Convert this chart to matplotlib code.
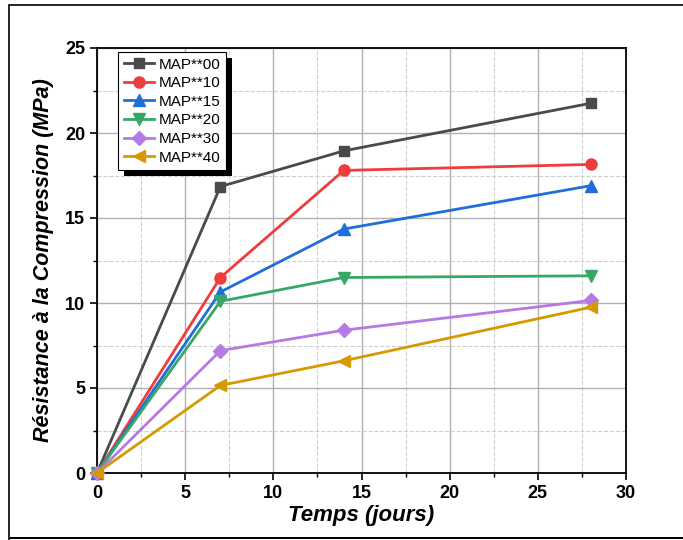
import numpy as np
import matplotlib.pyplot as plt
from matplotlib.patches import Rectangle
from matplotlib.ticker import MultipleLocator

plt.rcParams['font.family'] = ['Liberation Sans', 'DejaVu Sans']

days = [0, 7, 14, 28]
labels = ['MAP**00', 'MAP**10', 'MAP**15', 'MAP**20', 'MAP**30', 'MAP**40']
map00 = [0, 16.85, 18.95, 21.75]
map10 = [0, 11.5, 17.8, 18.15]
map15 = [0, 10.65, 14.35, 16.9]
map20 = [0, 10.1, 11.5, 11.6]
map30 = [0, 7.2, 8.4, 10.15]
map40 = [0, 5.15, 6.6, 9.75]
series = [map00, map10, map15, map20, map30, map40]

colors = ['#4a4a4a', '#f03c3c', '#1f6ed9', '#35a866', '#b57ae3', '#d49a00']
markers = ['s', 'o', '^', 'v', 'D', '<']
sizes = [7, 8, 8, 8, 7, 8]

fig = plt.figure(figsize=(6.83, 5.40), dpi=100)

# outer frame with shadow
fig.patches.append(Rectangle((9 / 683, -0.01), 1.0, 1 - 5 / 540 + 0.01,
                             transform=fig.transFigure, fill=False,
                             edgecolor='black', lw=1.2, zorder=0))
fig.patches.append(Rectangle((10 / 683, 1 / 540), 1.0, 2.5 / 540,
                             transform=fig.transFigure, facecolor='black',
                             edgecolor='none', zorder=0))

ax = fig.add_axes([97 / 683, 1 - 473 / 540, (626 - 97) / 683, (473 - 48) / 540])

for vals, lab, c, m, s in zip(series, labels, colors, markers, sizes):
    ax.plot(days, vals, color=c, marker=m, markersize=s, lw=2, label=lab,
            clip_on=False, zorder=3)

ax.set_xlim(0, 30)
ax.set_ylim(0, 25)
ax.xaxis.set_major_locator(MultipleLocator(5))
ax.xaxis.set_minor_locator(MultipleLocator(2.5))
ax.yaxis.set_major_locator(MultipleLocator(5))
ax.yaxis.set_minor_locator(MultipleLocator(2.5))
ax.grid(which='major', color='#b0b0b0', lw=1)
ax.grid(which='minor', color='#cfcfcf', lw=0.8, ls='--')
ax.set_axisbelow(True)
ax.tick_params(which='major', direction='out', length=5, width=1.2,
               labelsize=13)
ax.tick_params(which='minor', direction='out', length=3, width=1)
for lbl in ax.get_xticklabels() + ax.get_yticklabels():
    lbl.set_fontweight('bold')
for sp in ax.spines.values():
    sp.set_linewidth(1.3)

ax.set_xlabel('Temps (jours)', fontsize=16, fontweight='bold', style='italic',
              labelpad=2)
ax.set_ylabel('Résistance à la Compression (MPa)', fontsize=15.5,
              fontweight='bold', style='italic', labelpad=8)

leg = ax.legend(loc='upper left', bbox_to_anchor=(0.04, 0.99), fontsize=11,
                frameon=True, fancybox=False, shadow=False, handlelength=2.0,
                handletextpad=0.3, labelspacing=0.3, borderpad=0.35,
                borderaxespad=0, framealpha=1)
leg.get_frame().set_edgecolor('black')
leg.get_frame().set_linewidth(0.8)
leg.set_zorder(6)

fig.canvas.draw()
bb = leg.get_window_extent().transformed(fig.transFigure.inverted())
ax.add_patch(Rectangle((bb.x0 + 6 / 683, bb.y0 - 6 / 540), bb.width, bb.height,
                       transform=fig.transFigure, facecolor='black',
                       edgecolor='none', zorder=5, clip_on=False))

fig.savefig('out.png', dpi=100)
